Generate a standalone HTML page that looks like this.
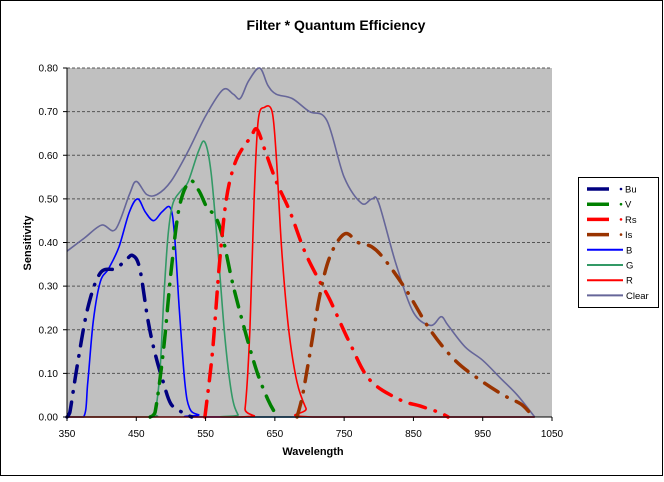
<!DOCTYPE html>
<html><head><meta charset="utf-8"><style>
body{margin:0;background:#fff;}
svg text{font-family:"Liberation Sans",Arial,sans-serif;}
</style></head><body>
<svg id="chart" width="664" height="477" xmlns="http://www.w3.org/2000/svg">
<rect x="0.5" y="0.5" width="662" height="475" fill="#fff" stroke="#000"/>
<text x="336" y="30" text-anchor="middle" font-size="14" font-weight="bold">Filter * Quantum Efficiency</text>
<rect x="67" y="68" width="485" height="349" fill="#c0c0c0"/>
<g id="grid"></g>
<g id="series"></g>
<line x1="67" y1="68" x2="67" y2="417" stroke="#000"/>
<line x1="67" y1="417" x2="552" y2="417" stroke="#000"/>
<g id="ticks"></g>
<text x="313" y="455" text-anchor="middle" font-size="11" font-weight="bold">Wavelength</text>
<text transform="translate(31,243) rotate(-90)" text-anchor="middle" font-size="11" font-weight="bold">Sensitivity</text>
<g id="legend">
<rect x="578.5" y="177.5" width="80" height="130" fill="#fff" stroke="#000"/>
</g>
</svg>
<script>
const xTicks=[350,450,550,650,750,850,950,1050];
const yTicks=[0,0.1,0.2,0.3,0.4,0.5,0.6,0.7,0.8];
const seriesNames=["Bu","V","Rs","Is","B","G","R","Clear"];
const buData=[[350,0],[354,0.01],[365,0.12],[380,0.25],[398,0.33],[420,0.34],[435,0.36],[445,0.37],[455,0.34],[467,0.22],[478,0.14],[489,0.08],[500,0.03],[517,0.01],[530,0]];
const vData=[[470,0],[477,0.01],[489,0.15],[500,0.33],[512,0.48],[527,0.54],[540,0.52],[552,0.48],[564,0.46],[575,0.41],[590,0.30],[610,0.18],[625,0.10],[640,0.04],[650,0.01],[655,0]];
const rsData=[[549,0],[560,0.15],[570,0.35],[580,0.50],[592,0.58],[605,0.62],[615,0.64],[624,0.66],[636,0.61],[652,0.54],[672,0.47],[693,0.38],[715,0.31],[729,0.27],[758,0.17],[787,0.085],[830,0.04],[860,0.025],[888,0.01],[900,0]];
const isData=[[682,0],[690,0.05],[700,0.14],[715,0.28],[730,0.37],[751,0.42],[770,0.40],[790,0.39],[809,0.36],[840,0.29],[874,0.20],[910,0.13],[946,0.085],[980,0.05],[1005,0.03],[1018,0.01],[1025,0]];
const bData=[[350,0],[374,0],[380,0.08],[388,0.22],[398,0.31],[410,0.34],[425,0.39],[440,0.47],[452,0.50],[463,0.47],[475,0.45],[487,0.47],[499,0.48],[505,0.42],[512,0.25],[520,0.08],[527,0.02],[540,0.005],[560,0],[1025,0]];
const gData=[[350,0],[470,0],[477,0.01],[484,0.10],[490,0.28],[496,0.42],[503,0.49],[515,0.52],[525,0.54],[540,0.61],[549,0.63],[558,0.56],[568,0.38],[578,0.18],[588,0.05],[597,0.005],[605,0],[1025,0]];
const rData=[[350,0],[600,0],[607,0.02],[614,0.20],[620,0.50],[626,0.68],[635,0.71],[646,0.70],[652,0.60],[660,0.38],[670,0.20],[682,0.08],[695,0.02],[705,0],[1025,0]];
const clearData=[[350,0.38],[375,0.41],[400,0.44],[420,0.43],[440,0.51],[450,0.54],[465,0.51],[480,0.51],[500,0.54],[525,0.61],[550,0.69],[575,0.75],[590,0.74],[600,0.73],[612,0.77],[628,0.80],[640,0.76],[652,0.74],[675,0.73],[700,0.70],[725,0.68],[750,0.55],[775,0.49],[790,0.50],[800,0.49],[825,0.35],[850,0.24],[875,0.21],[890,0.23],[900,0.21],[925,0.16],[950,0.13],[975,0.09],[1000,0.05],[1025,0.0]];

const X0=67,X1=552,Y0=417,Y1=68;
function xs(w){return X0+(w-350)/700*(X1-X0);}
function ys(v){return Y0-v/0.8*(Y0-Y1);}
const NS="http://www.w3.org/2000/svg";
function mk(tag,attrs,parent){const e=document.createElementNS(NS,tag);for(const k in attrs)e.setAttribute(k,attrs[k]);parent.appendChild(e);return e;}
const grid=document.getElementById('grid'),ticks=document.getElementById('ticks'),series=document.getElementById('series'),legend=document.getElementById('legend');
yTicks.forEach(v=>{
  if(v>0){const g=mk('line',{x1:X0,x2:X1,y1:ys(v),y2:ys(v),stroke:'#555','stroke-dasharray':'3 2','stroke-width':1},grid);
  
  }
  const t=mk('line',{x1:X0-4,x2:X0,y1:ys(v),y2:ys(v),stroke:'#000'},ticks);
  
  
  const l=mk('text',{x:X0-9,y:ys(v)+3.5,'text-anchor':'end','font-size':10},ticks);
  l.textContent=v.toFixed(2);
  
  
});
xTicks.forEach(w=>{
  const t=mk('line',{x1:xs(w),x2:xs(w),y1:Y0,y2:Y0+4,stroke:'#000'},ticks);
  
  
  const l=mk('text',{x:xs(w),y:Y0+20,'text-anchor':'middle','font-size':10},ticks);
  l.textContent=w;
  
  
});
function pathD(data){
  const p=data.map(d=>[xs(d[0]),ys(d[1])]);
  let d='M'+p[0][0].toFixed(1)+','+p[0][1].toFixed(1);
  for(let i=0;i<p.length-1;i++){
    const p0=p[i-1]||p[i],p1=p[i],p2=p[i+1],p3=p[i+2]||p2;
    const c1=[p1[0]+(p2[0]-p0[0])/6,p1[1]+(p2[1]-p0[1])/6];
    const c2=[p2[0]-(p3[0]-p1[0])/6,p2[1]-(p3[1]-p1[1])/6];
    c1[1]=Math.min(c1[1],Y0);c2[1]=Math.min(c2[1],Y0);
    d+=`C${c1[0].toFixed(1)},${c1[1].toFixed(1)} ${c2[0].toFixed(1)},${c2[1].toFixed(1)} ${p2[0].toFixed(1)},${p2[1].toFixed(1)}`;
  }
  return d;
}
const datasets=[buData,vData,rsData,isData,bData,gData,rData,clearData];
const colors=["#000080","#008000","#ff0000","#993300","#0000ff","#339966","#ff0000","#666699"];
const dashed=[true,true,true,true,false,false,false,false];
const order=[7,4,5,6,0,1,2,3];
order.forEach(i=>{
  const attrs={d:pathD(datasets[i]),fill:'none',stroke:colors[i],'stroke-width':dashed[i]?3.5:1.6};
  if(dashed[i]){attrs['stroke-dasharray']='16 10 0.5 10';attrs['stroke-linecap']='round';}
  const e=mk('path',attrs,series);
  
  
});
seriesNames.forEach((n,i)=>{
  const y=189+i*15.2;
  const g=mk('g',{},legend);
  
  
  if(dashed[i]){
    mk('line',{x1:587,x2:609,y1:y,y2:y,stroke:colors[i],'stroke-width':3.5},g);
    mk('circle',{cx:621,cy:y,r:1.3,fill:colors[i]},g);
  }else{
    mk('line',{x1:587,x2:623,y1:y,y2:y,stroke:colors[i],'stroke-width':2},g);
  }
  const t=mk('text',{x:dashed[i]?625:626,y:y+3.5,'font-size':9.5},g);
  t.textContent=n;
});
</script>
</body></html>
